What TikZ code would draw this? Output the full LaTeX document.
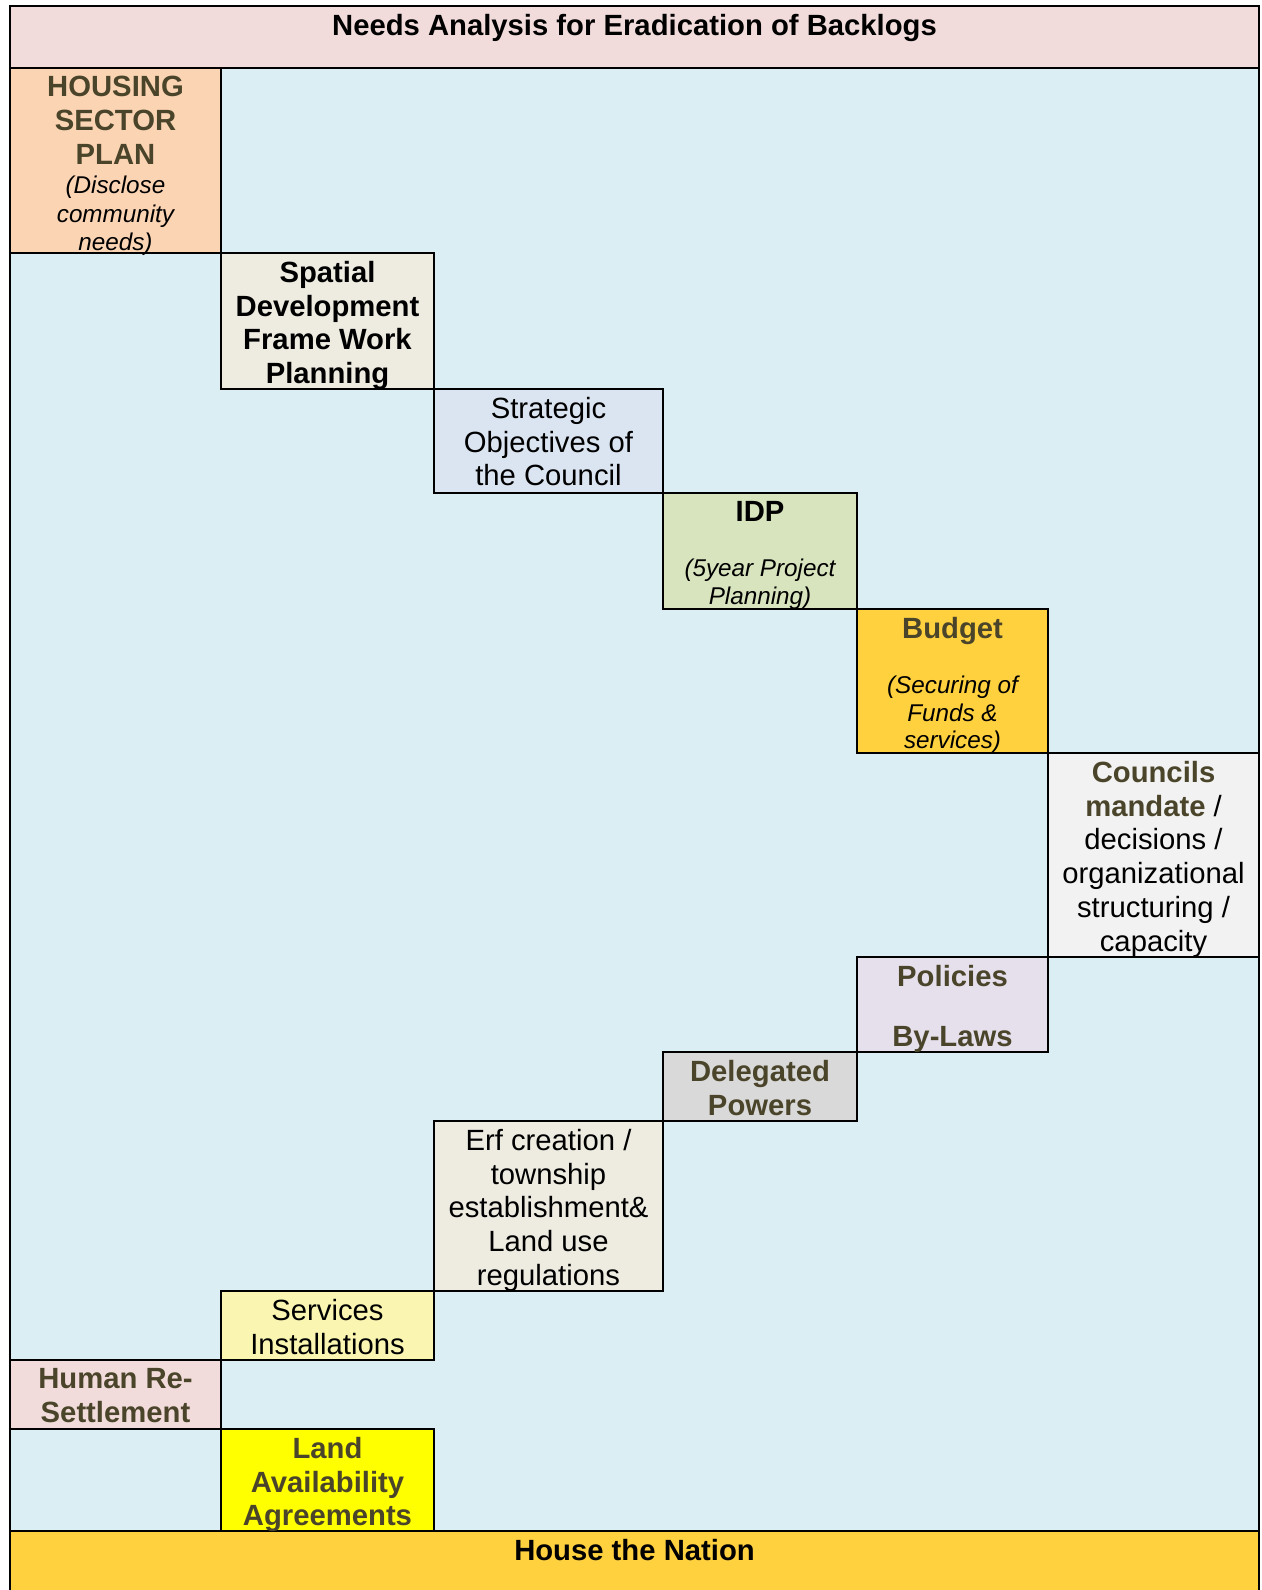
\documentclass[tikz,border=0pt]{standalone}
\usepackage{fontspec}
\setmainfont{Liberation Sans}
\usepackage{tikz}
\usetikzlibrary{fit}
\definecolor{headfill}{HTML}{F2DCDB}
\definecolor{planfill}{HTML}{DAEEF3}
\definecolor{housingfill}{HTML}{FBD4B4}
\definecolor{spatialfill}{HTML}{EEECE1}
\definecolor{strategicfill}{HTML}{DBE5F1}
\definecolor{idpfill}{HTML}{D7E4BD}
\definecolor{goldfill}{HTML}{FFD13F}
\definecolor{councilfill}{HTML}{F2F2F2}
\definecolor{policyfill}{HTML}{E5E0EC}
\definecolor{powersfill}{HTML}{D9D9D9}
\definecolor{servicesfill}{HTML}{FAF6B2}
\definecolor{landfill}{HTML}{FFFF00}
\definecolor{olivetext}{HTML}{4A452A}
\newcommand{\notetext}[1]{{\fontsize{9.7}{11}\selectfont\mdseries\itshape\color{black}#1}}

\begin{document}
\begin{tikzpicture}[
  x=0.4pt, y=-0.4pt,
  cell/.style={rectangle,draw,line width=0.8pt,inner sep=0pt},
  celltext/.style={anchor=north,align=center,inner xsep=0pt,inner ysep=3.5pt,font=\fontsize{11.7}{13.5}\selectfont},
  boldtext/.style={celltext,font=\fontsize{11.7}{13.5}\selectfont\bfseries},
  olive/.style={boldtext,text=olivetext}
]
\useasboundingbox (0,0) rectangle (1261,1590);

% frame, title and base
\node[cell,fill=headfill,fit={(10,6) (1259,68)}] (head) {};
\node[cell,fill=planfill,fit={(10,68) (1259,1531)}] (plan) {};
\node[cell,fill=goldfill,fit={(10,1531) (1259,1598)}] (nation) {};
\node[boldtext] (head text) at (head.north) {Needs Analysis for Eradication of Backlogs};
\node[boldtext] (nation text) at (nation.north) {House the Nation};

% steps going down
\node[cell,fill=housingfill,fit={(10,68) (221,253)}] (housing) {};
\node[cell,fill=spatialfill,fit={(221,253) (434,389)}] (spatial) {};
\node[cell,fill=strategicfill,fit={(434,389) (663,493)}] (strategic) {};
\node[cell,fill=idpfill,fit={(663,493) (857,609)}] (idp) {};
\node[cell,fill=goldfill,fit={(857,609) (1048,753)}] (budget) {};
\node[cell,fill=councilfill,fit={(1048,753) (1259,957)}] (councils) {};

% steps coming back
\node[cell,fill=policyfill,fit={(857,957) (1048,1052)}] (policies) {};
\node[cell,fill=powersfill,fit={(663,1052) (857,1121)}] (powers) {};
\node[cell,fill=spatialfill,fit={(434,1121) (663,1291)}] (erf) {};
\node[cell,fill=servicesfill,fit={(221,1291) (434,1360)}] (services) {};
\node[cell,fill=headfill,fit={(10,1360) (221,1429)}] (resettle) {};
\node[cell,fill=landfill,fit={(221,1429) (434,1531)}] (land) {};

\node[olive] (housing text) at (housing.north) {HOUSING\\SECTOR\\PLAN\\[-1.6pt]\notetext{(Disclose}\\[-2.2pt]\notetext{community}\\[-2.2pt]\notetext{needs)}};
\node[boldtext] (spatial text) at (spatial.north) {Spatial\\Development\\Frame Work\\Planning};
\node[celltext] (strategic text) at (strategic.north) {Strategic\\Objectives of\\the Council};
\node[boldtext] (idp text) at (idp.north) {IDP\\[8.5pt]\notetext{(5year Project}\\[-2.4pt]\notetext{Planning)}};
\node[olive] (budget text) at (budget.north) {Budget\\[8.5pt]\notetext{(Securing of}\\[-2.4pt]\notetext{Funds \&}\\[-2.4pt]\notetext{services)}};
\node[celltext] (councils text) at (councils.north) {\textcolor{olivetext}{\bfseries Councils}\\\textcolor{olivetext}{\bfseries mandate} /\\decisions /\\organizational\\structuring /\\capacity};
\node[olive] (policies text) at (policies.north) {Policies\\[10.5pt]By-Laws};
\node[olive] (powers text) at (powers.north) {Delegated\\Powers};
\node[celltext] (erf text) at (erf.north) {Erf creation /\\township\\establishment\&\\Land use\\regulations};
\node[celltext] (services text) at (services.north) {Services\\Installations};
\node[olive] (resettle text) at (resettle.north) {Human Re-\\Settlement};
\node[olive] (land text) at (land.north) {Land\\Availability\\Agreements};
\end{tikzpicture}
\end{document}
